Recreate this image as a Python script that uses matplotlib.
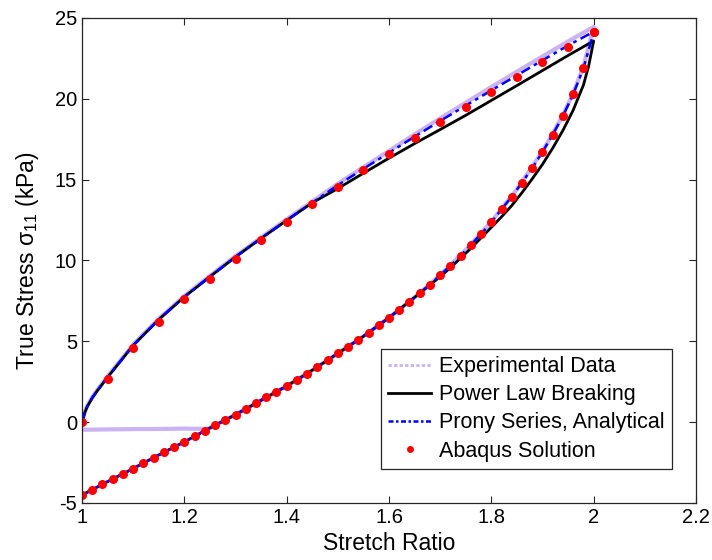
import matplotlib
matplotlib.use("Agg")
import matplotlib.pyplot as plt
from matplotlib.lines import Line2D
from matplotlib.ticker import FormatStrFormatter

plt.rcParams['font.family'] = ['Liberation Sans', 'DejaVu Sans']
plt.rcParams['axes.unicode_minus'] = False
plt.rcParams['mathtext.fontset'] = 'custom'
plt.rcParams['mathtext.rm'] = 'Liberation Sans'
plt.rcParams['mathtext.it'] = 'Liberation Sans'

# Abaqus points, loading branch (every 0.05)
abq_load_x = [1.00, 1.05, 1.10, 1.15, 1.20, 1.25, 1.30, 1.35, 1.40, 1.45, 1.50,
              1.55, 1.60, 1.65, 1.70, 1.75, 1.80, 1.85, 1.90, 1.95, 2.00]
abq_load_y = [0.00, 2.66, 4.61, 6.22, 7.60, 8.88, 10.12, 11.27, 12.38, 13.48, 14.57,
              15.58, 16.57, 17.58, 18.55, 19.50, 20.44, 21.37, 22.30, 23.23, 24.11]

# Abaqus points, unloading branch (every 0.02)
abq_unload_x = [2.00, 1.98, 1.96, 1.94, 1.92, 1.90, 1.88, 1.86, 1.84, 1.82, 1.80,
                1.78, 1.76, 1.74, 1.72, 1.70, 1.68, 1.66, 1.64, 1.62, 1.60,
                1.58, 1.56, 1.54, 1.52, 1.50, 1.48, 1.46, 1.44, 1.42, 1.40,
                1.38, 1.36, 1.34, 1.32, 1.30, 1.28, 1.26, 1.24, 1.22, 1.20,
                1.18, 1.16, 1.14, 1.12, 1.10, 1.08, 1.06, 1.04, 1.02, 1.00]
abq_unload_y = [24.11, 21.89, 20.28, 18.94, 17.79, 16.71, 15.72, 14.82, 13.95, 13.17, 12.37,
                11.64, 10.96, 10.30, 9.68, 9.09, 8.51, 7.97, 7.44, 6.94, 6.47,
                6.00, 5.54, 5.09, 4.67, 4.26, 3.85, 3.42, 3.00, 2.60, 2.24,
                1.89, 1.54, 1.17, 0.82, 0.47, 0.14, -0.19, -0.52, -0.87, -1.22,
                -1.53, -1.86, -2.19, -2.52, -2.87, -3.18, -3.51, -3.84, -4.19, -4.50]

# Prony series (analytical), loading branch
prony_load_x = [1.00, 1.005, 1.01, 1.02, 1.03, 1.05, 1.10, 1.15, 1.20, 1.25, 1.30,
                1.35, 1.40, 1.45, 1.50, 1.55, 1.60, 1.65, 1.70, 1.75, 1.80,
                1.85, 1.90, 1.95, 2.00]
prony_load_y = [0.00, 0.55, 0.95, 1.50, 1.95, 2.78, 4.75, 6.35, 7.75, 9.00, 10.22,
                11.37, 12.48, 13.57, 14.66, 15.67, 16.66, 17.66, 18.63, 19.58, 20.52,
                21.45, 22.38, 23.30, 24.15]

# Power law breaking
power_x = [1.00, 1.005, 1.01, 1.02, 1.03, 1.05, 1.10, 1.15, 1.20, 1.25, 1.30,
           1.35, 1.40, 1.45, 1.50, 1.55, 1.60, 1.65, 1.70, 1.75, 1.80,
           1.85, 1.90, 1.95, 2.00,
           1.99, 1.98, 1.96, 1.94, 1.92, 1.90, 1.88, 1.86, 1.84, 1.82,
           1.80, 1.78, 1.76, 1.74, 1.72, 1.70, 1.65, 1.60, 1.55, 1.50,
           1.45, 1.40, 1.35, 1.30, 1.25, 1.20, 1.15, 1.10, 1.05, 1.00]
power_y = [0.00, 0.55, 0.95, 1.50, 1.95, 2.78, 4.75, 6.35, 7.75, 9.00, 10.22,
           11.37, 12.48, 13.57, 14.45, 15.40, 16.33, 17.23, 18.10, 18.98, 19.90,
           20.82, 21.75, 22.68, 23.58,
           22.00, 20.85, 19.30, 18.05, 16.95, 15.95, 15.05, 14.20, 13.40, 12.70,
           12.05, 11.40, 10.75, 10.15, 9.55, 9.00, 7.72, 6.46, 5.31, 4.25,
           3.21, 2.23, 1.35, 0.46, -0.36, -1.22, -2.03, -2.87, -3.68, -4.50]

# Experimental data (loading, unloading, then flat buckled part)
exp_x = [1.00, 1.005, 1.01, 1.02, 1.03, 1.05, 1.10, 1.15, 1.20, 1.25, 1.30,
         1.35, 1.40, 1.45, 1.50, 1.55, 1.60, 1.65, 1.70, 1.75, 1.80,
         1.85, 1.90, 1.95, 2.00,
         1.98, 1.96, 1.94, 1.92, 1.90, 1.85, 1.80, 1.75, 1.70, 1.65,
         1.60, 1.55, 1.50, 1.45, 1.40, 1.35, 1.30, 1.25, 1.245,
         1.20, 1.15, 1.10, 1.05, 1.00]
exp_y = [0.00, 0.60, 1.00, 1.55, 2.00, 2.83, 4.80, 6.40, 7.80, 9.05, 10.27,
         11.42, 12.55, 13.65, 14.75, 15.77, 16.78, 17.80, 18.79, 19.76, 20.73,
         21.68, 22.62, 23.55, 24.45,
         22.00, 20.35, 19.00, 17.85, 16.75, 14.40, 12.40, 10.65, 9.10, 7.72,
         6.47, 5.31, 4.26, 3.21, 2.24, 1.36, 0.47, -0.36, -0.42,
         -0.40, -0.42, -0.43, -0.45, -0.47]

lavender = '#cbb2f3'

fig = plt.figure(figsize=(7.12, 5.6), dpi=100)
ax = fig.add_axes([0.1152, 0.1018, 0.8623, 0.8661])

ax.plot(exp_x, exp_y, color=lavender, lw=3.0, solid_capstyle='round')
ax.plot(power_x, power_y, color='black', lw=2.0)
ax.plot(prony_load_x + abq_unload_x, prony_load_y + abq_unload_y, color='#0000ff', lw=1.8,
        dashes=(4, 1.8, 1.5, 1.8))
ax.plot(abq_load_x + abq_unload_x, abq_load_y + abq_unload_y, 'o', color='#ff0000',
        ms=6.5, mec='none')

ax.set_xlim(1, 2.2)
ax.set_ylim(-5, 25)
ax.set_xticks([1, 1.2, 1.4, 1.6, 1.8, 2.0, 2.2])
ax.set_yticks([-5, 0, 5, 10, 15, 20, 25])
ax.xaxis.set_major_formatter(FormatStrFormatter('%g'))
ax.tick_params(direction='in', top=True, right=True, length=5, width=0.8,
               labelsize=14.5, colors='#262626', labelcolor='black')
for s in ax.spines.values():
    s.set_color('#262626')
    s.set_linewidth(0.9)

ax.set_xlabel('Stretch Ratio', fontsize=16.5, labelpad=4)
ax.set_ylabel(r'True Stress $\sigma_{11}$ (kPa)', fontsize=16.5, labelpad=10)

# legend with MATLAB-ish handles
handles = [
    Line2D([], [], color=lavender, lw=2, ls=(0, (1.2, 0.8))),
    Line2D([], [], color='black', lw=2),
    Line2D([], [], color='#0000ff', lw=1.8, dashes=(2, 1, 1, 1)),
    Line2D([], [], ls='none', marker='o', color='#ff0000', ms=5, mec='none'),
]
labels = ['Experimental Data', 'Power Law Breaking', 'Prony Series, Analytical', 'Abaqus Solution']
leg = ax.legend(handles, labels, loc='lower right', bbox_to_anchor=(0.961, 0.070),
                borderaxespad=0, fontsize=15.5, fancybox=False, framealpha=1,
                edgecolor='#262626', handlelength=2.0, handletextpad=0.35,
                labelspacing=0.33, borderpad=0.35)
leg.get_frame().set_linewidth(0.9)

fig.savefig('out.png', dpi=100)
